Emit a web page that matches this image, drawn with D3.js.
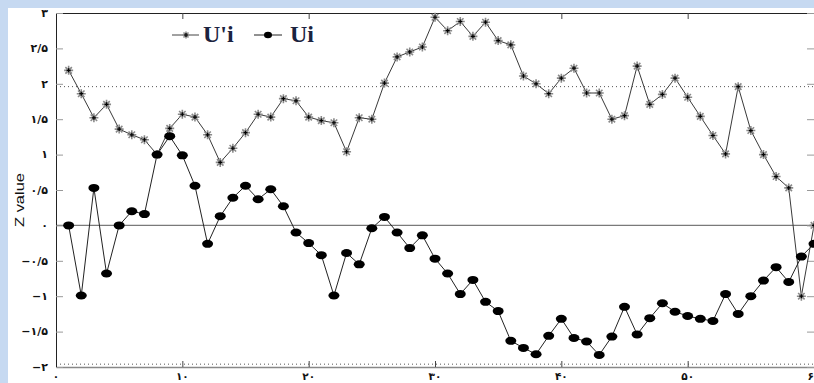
<!DOCTYPE html>
<html>
<head>
<meta charset="utf-8">
<script src="https://cdn.jsdelivr.net/npm/d3@7/dist/d3.min.js"></script>
<style>
  html, body { margin: 0; padding: 0; background: #c6d9f1; }
  svg { display: block; }
</style>
</head>
<body>
<script>
// Sequential Mann-Kendall statistics: forward (Ui) and backward (U'i) series
const steps = d3.range(1, 61);
const uPrime = [
  2.19, 1.86, 1.52, 1.71, 1.36, 1.28, 1.21, 1.00, 1.37, 1.57,
  1.53, 1.28, 0.89, 1.09, 1.31, 1.57, 1.53, 1.79, 1.76, 1.53,
  1.48, 1.45, 1.04, 1.52, 1.50, 2.01, 2.38, 2.45, 2.52, 2.94,
  2.75, 2.88, 2.67, 2.87, 2.61, 2.55, 2.11, 2.00, 1.86, 2.08,
  2.22, 1.87, 1.87, 1.50, 1.55, 2.25, 1.71, 1.85, 2.08, 1.81,
  1.54, 1.27, 1.01, 1.96, 1.34, 1.00, 0.69, 0.53, -1.00, 0.00
];
const uForward = [
  0.00, -0.99, 0.53, -0.68, 0.00, 0.20, 0.16, 1.00, 1.26, 0.99,
  0.56, -0.26, 0.13, 0.39, 0.56, 0.37, 0.51, 0.27, -0.10, -0.25,
  -0.42, -0.99, -0.39, -0.55, -0.04, 0.12, -0.10, -0.32, -0.14, -0.47,
  -0.68, -0.97, -0.77, -1.08, -1.21, -1.63, -1.73, -1.82, -1.56, -1.32,
  -1.59, -1.64, -1.83, -1.57, -1.15, -1.54, -1.31, -1.10, -1.22, -1.28,
  -1.32, -1.35, -0.97, -1.25, -1.00, -0.78, -0.59, -0.80, -0.44, -0.26
];
const xTicks = [0, 10, 20, 30, 40, 50, 60];
const yTicks = [-2, -1.5, -1, -0.5, 0, 0.5, 1, 1.5, 2, 2.5, 3];
const critical = 1.96;
const seriesNames = ["U'i", "Ui"];

const W = 814, H = 383;
const svg = d3.select("body").append("svg").attr("width", W).attr("height", H);

// white panel on the blue page
svg.append("rect").attr("x", 8).attr("y", 8).attr("width", W - 8).attr("height", H - 8).attr("fill", "#fff");

const x = d3.scaleLinear().domain([0, 60]).range([56, 814]);
const y = d3.scaleLinear().domain([-2, 3]).range([367, 13]);

const fa = s => String(s)
  .replace(/[0-9]/g, d => "۰۱۲۳۴۵۶۷۸۹"[+d])
  .replace(".", "/")
  .replace("-", "−");

// reference lines
svg.append("line").attr("x1", x(0)).attr("x2", x(60)).attr("y1", y(0)).attr("y2", y(0))
  .attr("stroke", "#7a7a7a").attr("stroke-width", 1.2);
[critical, -critical].forEach(v => {
  svg.append("line").attr("x1", x(0)).attr("x2", x(60)).attr("y1", y(v)).attr("y2", y(v))
    .attr("stroke", "#555").attr("stroke-width", 1).attr("stroke-dasharray", "1,3");
});

// axes frame with inward ticks
const tickStyle = g => {
  g.select(".domain").attr("stroke", "#222");
  g.selectAll(".tick line").attr("stroke", "#444");
};
svg.append("g").attr("transform", `translate(0,${y(-2)})`)
  .call(d3.axisBottom(x).tickValues(xTicks).tickSizeInner(-6).tickSizeOuter(0).tickFormat(""))
  .call(tickStyle)
  .call(g => g.select(".domain").attr("stroke", "#888").attr("stroke-width", 1.5));
svg.append("g").attr("transform", `translate(0,${y(3)})`)
  .call(d3.axisTop(x).tickValues(xTicks).tickSizeInner(-6).tickSizeOuter(0).tickFormat(""))
  .call(tickStyle);
svg.append("g").attr("transform", `translate(${x(0)},0)`)
  .call(d3.axisLeft(y).tickValues(yTicks).tickSizeInner(-7).tickSizeOuter(0).tickFormat(""))
  .call(tickStyle)
  .call(g => g.selectAll(".tick line").attr("stroke", "#999"));
svg.append("g").attr("transform", `translate(${x(60)},0)`)
  .call(d3.axisRight(y).tickValues(yTicks).tickSizeInner(-7).tickSizeOuter(0).tickFormat(""))
  .call(tickStyle)
  .call(g => g.selectAll(".tick line").attr("stroke", "#999"));

// tick labels in Persian digits
svg.append("g").selectAll("text").data(yTicks).join("text")
  .attr("x", 48).attr("y", d => y(d)).attr("dy", "0.35em")
  .attr("text-anchor", "end")
  .attr("font-family", "DejaVu Sans").attr("font-size", 11).attr("font-weight", "bold")
  .attr("fill", "#111")
  .text(d => fa(d));
svg.append("g").selectAll("text").data(xTicks).join("text")
  .attr("x", d => x(d)).attr("y", 380)
  .attr("text-anchor", "middle")
  .attr("font-family", "DejaVu Sans").attr("font-size", 10.5).attr("font-weight", "bold")
  .attr("fill", "#111")
  .text(d => fa(d));

// y-axis title
svg.append("text")
  .attr("transform", "translate(24,200) rotate(-90)")
  .attr("text-anchor", "middle")
  .attr("font-family", "Liberation Sans").attr("font-size", 13)
  .attr("textLength", 54).attr("lengthAdjust", "spacingAndGlyphs")
  .attr("fill", "#111")
  .text("Z value");

// series lines
const line = d3.line().x((d, i) => x(steps[i])).y(d => y(d));
svg.append("path").datum(uPrime).attr("d", line)
  .attr("fill", "none").attr("stroke", "#3a3a3a").attr("stroke-width", 1);
svg.append("path").datum(uForward).attr("d", line)
  .attr("fill", "none").attr("stroke", "#222").attr("stroke-width", 1);

// asterisk marker
const star = (g, cx, cy, r) => {
  const a = r * 0.72;
  g.append("path")
    .attr("d", `M${cx - r},${cy}H${cx + r}M${cx},${cy - r}V${cy + r}` +
      `M${cx - a},${cy - a}L${cx + a},${cy + a}M${cx - a},${cy + a}L${cx + a},${cy - a}`)
    .attr("stroke", "#8a8a8a").attr("stroke-width", 1.6).attr("fill", "none");
  g.append("path")
    .attr("d", `M${cx - 2},${cy}H${cx + 2}M${cx},${cy - 2}V${cy + 2}`)
    .attr("stroke", "#000").attr("stroke-width", 1.2);
};

const starG = svg.append("g");
uPrime.forEach((v, i) => star(starG, x(steps[i]), y(v), 4.5));

svg.append("g").selectAll("ellipse").data(uForward).join("ellipse")
  .attr("cx", (d, i) => x(steps[i])).attr("cy", d => y(d))
  .attr("rx", 5.5).attr("ry", 4).attr("fill", "#000");

// legend
const lg = svg.append("g");
lg.append("line").attr("x1", 172).attr("x2", 199).attr("y1", 35).attr("y2", 35)
  .attr("stroke", "#444").attr("stroke-width", 1);
star(lg, 186, 35, 3.5);
lg.append("text").attr("x", 203).attr("y", 42)
  .attr("font-family", "Liberation Serif").attr("font-size", 24).attr("font-weight", "bold")
  .attr("fill", "#1b2340").text(seriesNames[0]);
lg.append("line").attr("x1", 254).attr("x2", 282).attr("y1", 35).attr("y2", 35)
  .attr("stroke", "#222").attr("stroke-width", 1);
lg.append("ellipse").attr("cx", 268).attr("cy", 35).attr("rx", 4).attr("ry", 3.2).attr("fill", "#000");
lg.append("text").attr("x", 290).attr("y", 42)
  .attr("font-family", "Liberation Serif").attr("font-size", 24).attr("font-weight", "bold")
  .attr("fill", "#1b2340").text(seriesNames[1]);
</script>
</body>
</html>
